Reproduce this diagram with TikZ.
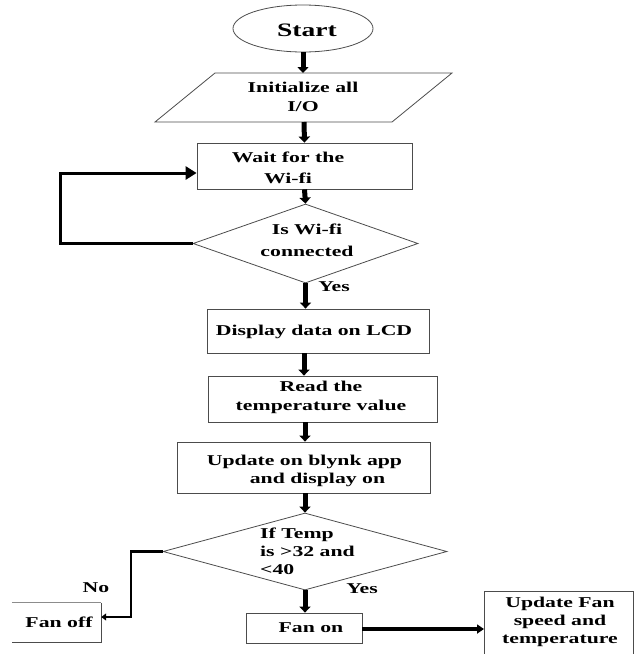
\documentclass[tikz,border=0pt]{standalone}
\usepackage{fontspec}
\newfontfamily\fcf{Liberation Serif}[FakeStretch=1.45]
\usetikzlibrary{arrows.meta,shapes.geometric}
\begin{document}
\begin{tikzpicture}[x=1pt,y=-1pt,
  shp/.style={draw=black!70, line width=0.8pt, inner sep=0pt},
  txt/.style={font=\fcf\bfseries\fontsize{15}{20}\selectfont, inner sep=0pt, align=center},
  flow/.style={line width=5pt, -{Triangle[width=11pt,length=6pt]}},
  loopline/.style={line width=3pt, -{Triangle[width=13pt,length=11pt]}},
  noline/.style={line width=2.5pt, -{Triangle[width=7pt,length=5pt]}},
  sideline/.style={line width=4pt, -{Triangle[width=9pt,length=7pt]}}]
\useasboundingbox (0,0) rectangle (635,654);
% shapes
\node[shp, ellipse, minimum width=140pt, minimum height=47pt] (start) at (303,28.5) {};
\draw[shp] (215,73) -- (452,73) -- (392,122) -- (155,122) -- cycle;
\coordinate (initN) at (303,73);
\coordinate (initS) at (304,122);
\node[shp, rectangle, minimum width=215pt, minimum height=46pt] (wait) at (304.5,166) {};
\node[shp, diamond, minimum width=225pt, minimum height=79pt] (wifi) at (305.5,243.5) {};
\node[shp, rectangle, minimum width=222pt, minimum height=44pt] (disp) at (318,331) {};
\node[shp, rectangle, minimum width=229pt, minimum height=46pt] (read) at (322.5,399) {};
\node[shp, rectangle, minimum width=253pt, minimum height=51pt] (upd) at (303.5,467.5) {};
\node[shp, diamond, minimum width=284pt, minimum height=77pt] (temp) at (305,551.5) {};
\node[shp, rectangle, minimum width=116pt, minimum height=30pt] (fanon) at (304,628) {};
\node[inner sep=0pt, minimum width=89pt, minimum height=39pt] (fanoff) at (56.5,622.5) {};
\draw[draw=black!45, line width=0.8pt] (fanoff.north west) -- (fanoff.north east);
\draw[shp] (fanoff.north east) -- (fanoff.south east) -- (fanoff.south west);
\coordinate (uf1) at (484,591);
\coordinate (uf2) at (633,591);
\draw[shp] (484,654) -- (uf1) -- (uf2) -- (633,654);
\coordinate (ufW) at (484,629);
% texts
\node[txt, font=\fcf\bfseries\fontsize{19}{22}\selectfont] (tstart) at (307,30) {Start};
\node[txt, font=\fcf\bfseries\fontsize{15}{19}\selectfont] (tinit) at (303,97) {Initialize all\\I/O};
\node[txt, font=\fcf\bfseries\fontsize{15}{21}\selectfont] (twait) at (288,168) {Wait for the\\Wi-fi};
\node[txt, font=\fcf\bfseries\fontsize{15}{22}\selectfont] (twifi) at (307,240) {Is Wi-fi\\connected};
\node[txt] (yes1) at (334,287) {Yes};
\node[txt] (tdisp) at (314,332) {Display data on LCD};
\node[txt, font=\fcf\bfseries\fontsize{15}{19}\selectfont] (tread) at (321,397) {Read the\\temperature value};
\node[txt, font=\fcf\bfseries\fontsize{15}{18}\selectfont] (tupd) at (304.5,471) {Update on blynk app\\\hspace*{26pt}and display on};
\node[txt, align=left, anchor=west, font=\fcf\bfseries\fontsize{15}{18}\selectfont] (ttemp) at (260,551) {If Temp\\is >32 and\\<40};
\node[txt] (no) at (96,588) {No};
\node[txt] (yes2) at (362,589) {Yes};
\node[txt] (tfanoff) at (59,622) {Fan off};
\node[txt] (tfanon) at (311,628) {Fan on};
\node[txt, font=\fcf\bfseries\fontsize{15}{18}\selectfont] (tupdfan) at (560,622) {Update Fan\\speed and\\temperature};
% connectors
\draw[flow] (start.south) -- (initN);
\draw[flow] (initS) -- (wait.north);
\draw[flow] (wait.south) -- (wifi.north);
\draw[flow] (wifi.south) -- (disp.north -| wifi.south);
\draw[flow] (disp.south -| 304,0) -- (read.north -| 304,0);
\draw[flow] (read.south -| 305,0) -- (upd.north -| 305,0);
\draw[flow] (upd.south -| temp.north) -- (temp.north);
\draw[flow] (temp.south) -- (fanon.north -| temp.south);
\draw[loopline] (wifi.west) -- (60,243.5) -- (60,173) -- (wait.west |- 0,173);
\draw[noline] (temp.west) -- (131,551.5) -- (131,617) -- (fanoff.east |- 0,617);
\draw[sideline] (fanon.east |- 0,629) -- (ufW);
\end{tikzpicture}
\end{document}
